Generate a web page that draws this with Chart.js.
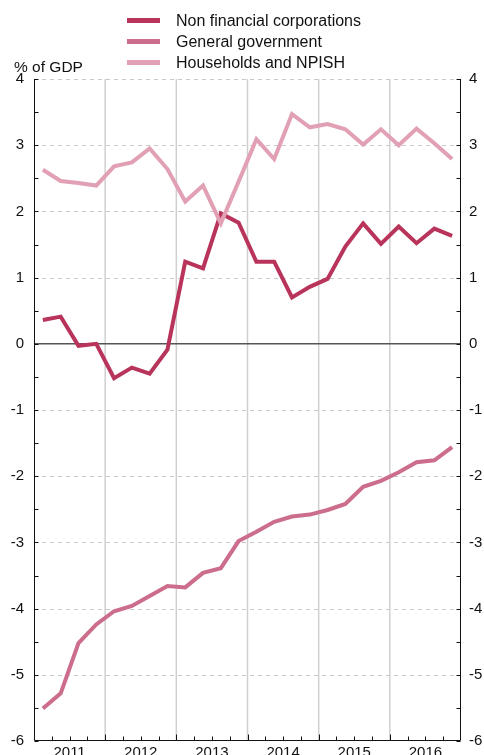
<!DOCTYPE html>
<html>
<head>
<meta charset="utf-8">
<script src="https://cdn.jsdelivr.net/npm/chart.js@4/dist/chart.umd.min.js"></script>
<style>
  html, body { margin: 0; padding: 0; overflow: hidden; background: #fff; }
  #wrap { position: relative; width: 484px; height: 755px; overflow: hidden; font-family: "Liberation Sans", Arial, sans-serif; }
  #c { position: absolute; left: 0; top: 0; }
  .lg-line { position: absolute; left: 127px; width: 33px; height: 5px; }
  .lg-text { position: absolute; left: 176px; font-size: 16px; line-height: 16px; color: #111; white-space: nowrap; }
  #unit { position: absolute; left: 14px; top: 59px; font-size: 15.5px; line-height: 15.5px; color: #111; white-space: nowrap; }
</style>
</head>
<body>
<div id="wrap">
  <canvas id="c" width="484" height="780"></canvas>
  <div id="legend"></div>
  <div id="unit">% of GDP</div>
</div>
<script>
// ---- data (quarterly, 2011 Q1 – 2016 Q4) ----
const years = ["2011", "2012", "2013", "2014", "2015", "2016"];
const quarters = ["Q1", "Q2", "Q3", "Q4"];
const seriesNames = ["Non financial corporations", "General government", "Households and NPISH"];
const nonFinancialCorporations = [0.36, 0.41, -0.03, 0.00, -0.52, -0.36, -0.45, -0.09, 1.24, 1.14, 1.97, 1.83, 1.24, 1.24, 0.70, 0.86, 0.98, 1.47, 1.82, 1.51, 1.77, 1.52, 1.74, 1.63];
const generalGovernment = [-5.51, -5.28, -4.52, -4.24, -4.04, -3.96, -3.81, -3.66, -3.68, -3.46, -3.39, -2.98, -2.84, -2.69, -2.61, -2.58, -2.51, -2.42, -2.16, -2.07, -1.94, -1.79, -1.76, -1.56];
const households = [2.63, 2.46, 2.43, 2.39, 2.68, 2.74, 2.95, 2.64, 2.15, 2.39, 1.82, 2.45, 3.09, 2.79, 3.47, 3.27, 3.32, 3.24, 3.01, 3.24, 3.00, 3.25, 3.03, 2.79];
const yTicks = [-6, -5, -4, -3, -2, -1, 0, 1, 2, 3, 4];

const colors = ["#b9345b", "#cc6d8b", "#e1a0b3"];
const allSeries = [nonFinancialCorporations, generalGovernment, households];

// period labels for each point
const periods = [];
years.forEach(y => quarters.forEach(q => periods.push(y + " " + q)));

// HTML legend
const lg = document.getElementById("legend");
seriesNames.forEach((name, i) => {
  const cy = 20 + i * 21.2;
  const ln = document.createElement("div");
  ln.className = "lg-line";
  ln.style.top = (cy - 2.5) + "px";
  ln.style.background = colors[i];
  lg.appendChild(ln);
  const tx = document.createElement("div");
  tx.className = "lg-text";
  tx.style.top = (cy + 6 - 13.5) + "px";
  tx.textContent = name;
  lg.appendChild(tx);
});

const toPoints = arr => arr.map((v, i) => ({ x: i + 0.5, y: v }));

const framePlugin = {
  id: "frame",
  beforeDatasetsDraw(chart) {
    const { ctx, chartArea: a, scales } = chart;
    const ys = scales.y, xs = scales.x;
    ctx.save();
    // dashed horizontal gridlines
    ctx.strokeStyle = "#c8c8c8";
    ctx.lineWidth = 1;
    ctx.setLineDash([4, 4]);
    yTicks.forEach(v => {
      if (v === 0 || v === -6) return;
      const py = Math.round(ys.getPixelForValue(v)) + 0.5;
      ctx.beginPath(); ctx.moveTo(a.left, py); ctx.lineTo(a.right, py); ctx.stroke();
    });
    ctx.setLineDash([]);
    // year separators
    ctx.strokeStyle = "#d0d0d0";
    ctx.lineWidth = 1.5;
    for (let k = 1; k < years.length; k++) {
      const px = xs.getPixelForValue(k * 4);
      ctx.beginPath(); ctx.moveTo(px, a.top); ctx.lineTo(px, a.bottom); ctx.stroke();
    }
    // zero line
    ctx.strokeStyle = "#555";
    ctx.lineWidth = 1.5;
    const zy = ys.getPixelForValue(0);
    ctx.beginPath(); ctx.moveTo(a.left, zy); ctx.lineTo(a.right, zy); ctx.stroke();
    ctx.restore();
  },
  afterDatasetsDraw(chart) {
    const { ctx, chartArea: a, scales } = chart;
    const ys = scales.y, xs = scales.x;
    ctx.save();
    ctx.strokeStyle = "#111";
    ctx.lineWidth = 1;
    const L = Math.round(a.left) + 0.5, R = Math.round(a.right) - 0.5, B = Math.round(a.bottom) - 0.5;
    ctx.beginPath();
    ctx.moveTo(L, a.top); ctx.lineTo(L, B); ctx.lineTo(R, B); ctx.lineTo(R, a.top);
    ctx.stroke();
    // minor ticks on y axes every 0.5
    for (let v = -6; v <= 4.001; v += 0.5) {
      const py = Math.round(ys.getPixelForValue(v)) + 0.5;
      ctx.beginPath();
      ctx.moveTo(L, py); ctx.lineTo(L + 4, py);
      ctx.moveTo(R, py); ctx.lineTo(R - 4, py);
      ctx.stroke();
    }
    // quarter ticks on x axis
    for (let k = 1; k < periods.length; k++) {
      const px = Math.round(xs.getPixelForValue(k)) + 0.5;
      const len = k % 4 === 0 ? 6 : 4;
      ctx.beginPath(); ctx.moveTo(px, B); ctx.lineTo(px, B - len); ctx.stroke();
    }
    ctx.restore();
  }
};

const tickFont = { family: "'Liberation Sans', Arial, sans-serif", size: 15 };

new Chart(document.getElementById("c"), {
  type: "line",
  data: {
    datasets: allSeries.map((arr, i) => ({
      label: seriesNames[i],
      data: toPoints(arr),
      borderColor: colors[i],
      backgroundColor: colors[i],
      borderWidth: 4,
      pointRadius: 0,
      tension: 0,
      yAxisID: "y"
    })).reverse()
  },
  options: {
    responsive: false,
    animation: false,
    layout: { padding: { top: 79, left: 0, right: 0, bottom: 0 } },
    plugins: { legend: { display: false }, tooltip: { enabled: false } },
    scales: {
      x: {
        type: "linear", min: 0, max: periods.length,
        grid: { display: false, drawTicks: false },
        border: { display: false },
        ticks: {
          stepSize: 1, autoSkip: false, maxRotation: 0, padding: 3,
          color: "#111", font: tickFont,
          callback: v => (v % 4 === 2 ? years[(v - 2) / 4] : "")
        },
        afterFit: s => { s.height = 780 - 741; }
      },
      y: {
        type: "linear", position: "left", min: -6, max: 4,
        grid: { display: false, drawTicks: false },
        border: { display: false },
        ticks: { stepSize: 1, padding: 10, color: "#111", font: tickFont },
        afterFit: s => { s.width = 34; }
      },
      y2: {
        type: "linear", position: "right", min: -6, max: 4,
        grid: { display: false, drawTicks: false },
        border: { display: false },
        ticks: { stepSize: 1, padding: 8, color: "#111", font: tickFont },
        afterFit: s => { s.width = 23; }
      }
    }
  },
  plugins: [framePlugin]
});
</script>
</body>
</html>
